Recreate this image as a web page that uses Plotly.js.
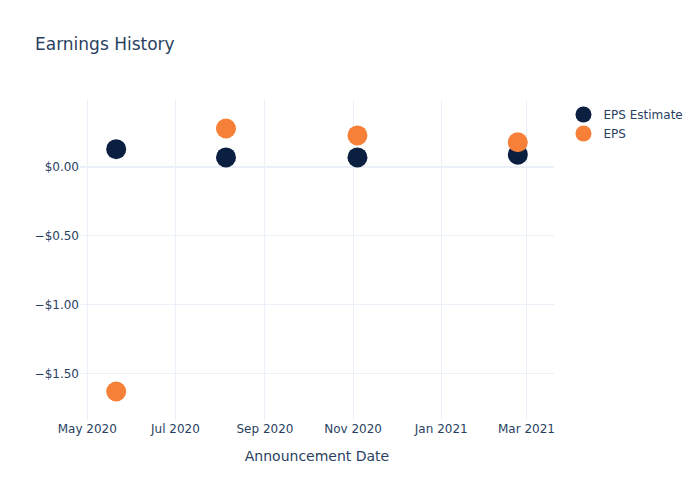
<!DOCTYPE html>
<html>
<head>
<meta charset="utf-8">
<script src="https://cdn.plot.ly/plotly-3.0.1.min.js"></script>
<style>html,body{margin:0;padding:0;}#chart{width:700px;height:500px;}</style>
</head>
<body>
<div id="chart"></div>
<script>
const dates = ["2020-05-21", "2020-08-05", "2020-11-04", "2021-02-23"];
const epsEstimate = [0.13, 0.07, 0.07, 0.09];
const epsActual = [-1.63, 0.28, 0.23, 0.18];

const traces = [
  {x: dates, y: epsEstimate, name: "EPS Estimate", mode: "markers", type: "scatter",
   marker: {color: "#0b1f41", size: 20}},
  {x: dates, y: epsActual, name: "EPS", mode: "markers", type: "scatter",
   marker: {color: "#f68038", size: 20}}
];
const layout = {
  width: 700, height: 500,
  paper_bgcolor: "white", plot_bgcolor: "white",
  font: {family: "DejaVu Sans, verdana, arial, sans-serif", color: "#2a3f5f", size: 12},
  title: {text: "Earnings History", x: 0.05, font: {size: 17}},
  xaxis: {title: {text: "Announcement Date", standoff: 16}, automargin: true, gridcolor: "#EBF0F8", zerolinecolor: "#EBF0F8", ticks: ""},
  yaxis: {tickformat: "$.2f", gridcolor: "#EBF0F8", zerolinecolor: "#EBF0F8", zerolinewidth: 2, ticks: ""},
  legend: {x: 1.02, y: 1}
};
Plotly.newPlot("chart", traces, layout, {displayModeBar: false});
</script>
</body>
</html>
